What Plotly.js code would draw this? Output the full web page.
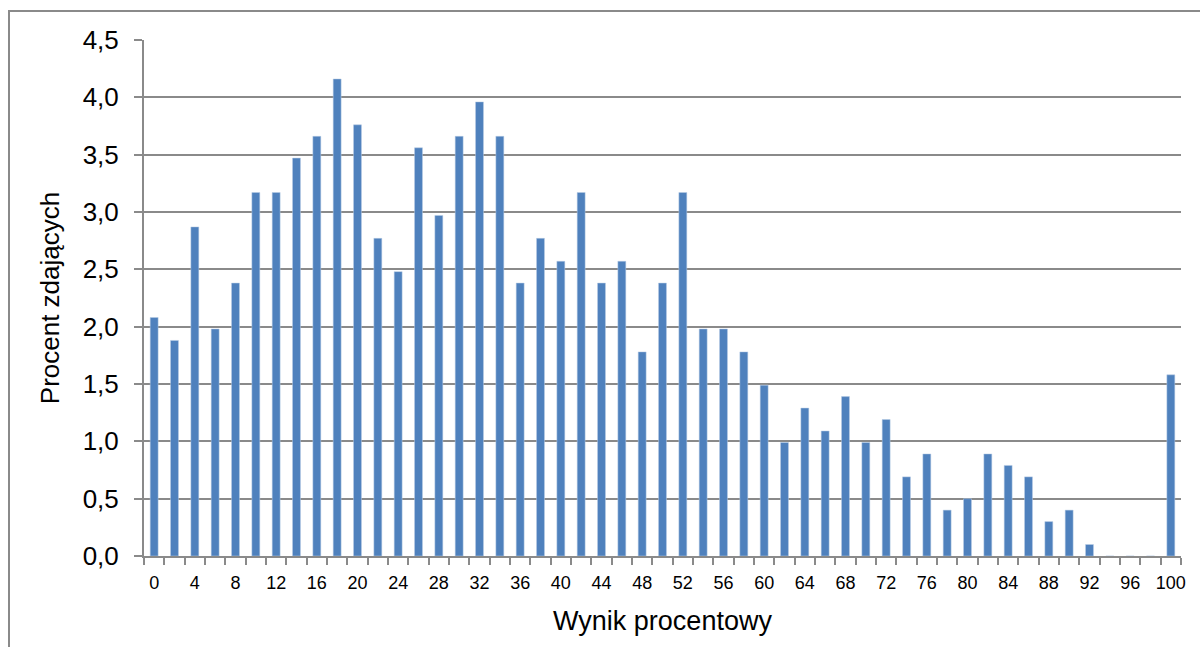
<!DOCTYPE html>
<html>
<head>
<meta charset="utf-8">
<script src="https://cdn.plot.ly/plotly-3.0.1.min.js"></script>
<style>
  html, body { margin: 0; padding: 0; background: #fff; }
  #frame { position: absolute; left: 8px; top: 10px; width: 1300px; height: 800px; border: 2px solid #8a8a8a; box-sizing: border-box; }
  #chart { position: absolute; left: 0; top: 0; width: 1200px; height: 647px; }
</style>
</head>
<body>
<div id="frame"></div>
<div id="chart"></div>
<script>
const scores = [0,2,4,6,8,10,12,14,16,18,20,22,24,26,28,30,32,34,36,38,40,42,44,46,48,50,52,54,56,58,60,62,64,66,68,70,72,74,76,78,80,82,84,86,88,90,92,94,96,98,100];
const percents = [2.08,1.88,2.87,1.98,2.38,3.17,3.17,3.47,3.66,4.16,3.76,2.77,2.48,3.56,2.97,3.66,3.96,3.66,2.38,2.77,2.57,3.17,2.38,2.57,1.78,2.38,3.17,1.98,1.98,1.78,1.49,0.99,1.29,1.09,1.39,0.99,1.19,0.69,0.89,0.40,0.50,0.89,0.79,0.69,0.30,0.40,0.10,0,0,0,1.58];
const labelTicks = [0,4,8,12,16,20,24,28,32,36,40,44,48,52,56,60,64,68,72,76,80,84,88,92,96,100];
const xTitle = 'Wynik procentowy';
const yTitle = 'Procent zdających';

const step = scores[1] - scores[0];
const boundaries = scores.map(s => s - step / 2).concat([scores[scores.length - 1] + step / 2]);
const gridColor = '#8a8a8a';
const font = 'Liberation Sans, Arial, sans-serif';

const trace = {
  type: 'bar',
  x: scores,
  y: percents,
  width: step * 0.39,
  marker: { color: '#4f81bd', line: { color: '#b9cde5', width: 0.5 } },
  hoverinfo: 'x+y'
};

const layout = {
  width: 1200,
  height: 647,
  margin: { l: 144, r: 19, t: 40, b: 91 },
  paper_bgcolor: 'rgba(0,0,0,0)',
  plot_bgcolor: 'rgba(0,0,0,0)',
  separators: ', ',
  showlegend: false,
  font: { family: font, color: '#000' },
  xaxis: {
    range: [boundaries[0], boundaries[boundaries.length - 1]],
    tickmode: 'array',
    tickvals: labelTicks,
    ticktext: labelTicks.map(String),
    ticks: 'outside',
    ticklen: 1,
    tickcolor: 'rgba(0,0,0,0)',
    ticklabelstandoff: 8,
    tickfont: { size: 18, family: font, color: '#000' },
    showgrid: false,
    zeroline: false,
    showline: true,
    linecolor: gridColor,
    linewidth: 2,
    minor: { tickmode: 'array', tickvals: boundaries, ticks: 'outside', ticklen: 7, tickcolor: gridColor, tickwidth: 2, showgrid: false },
    title: { text: xTitle, font: { size: 27, family: font, color: '#000' }, standoff: 20 },
    fixedrange: true
  },
  yaxis: {
    range: [0, 4.5],
    tickmode: 'linear',
    tick0: 0,
    dtick: 0.5,
    tickformat: '.1f',
    ticks: 'outside',
    ticklen: 8,
    tickwidth: 2,
    tickcolor: gridColor,
    ticklabelstandoff: 10,
    tickfont: { size: 26, family: font, color: '#000' },
    showgrid: true,
    gridcolor: gridColor,
    gridwidth: 2,
    zeroline: false,
    showline: true,
    linecolor: gridColor,
    linewidth: 2,
    title: { text: yTitle, font: { size: 26, family: font, color: '#000' }, standoff: 16 },
    fixedrange: true
  },
  bargap: 0
};

Plotly.newPlot('chart', [trace], layout, { displayModeBar: false, staticPlot: true });
</script>
</body>
</html>
